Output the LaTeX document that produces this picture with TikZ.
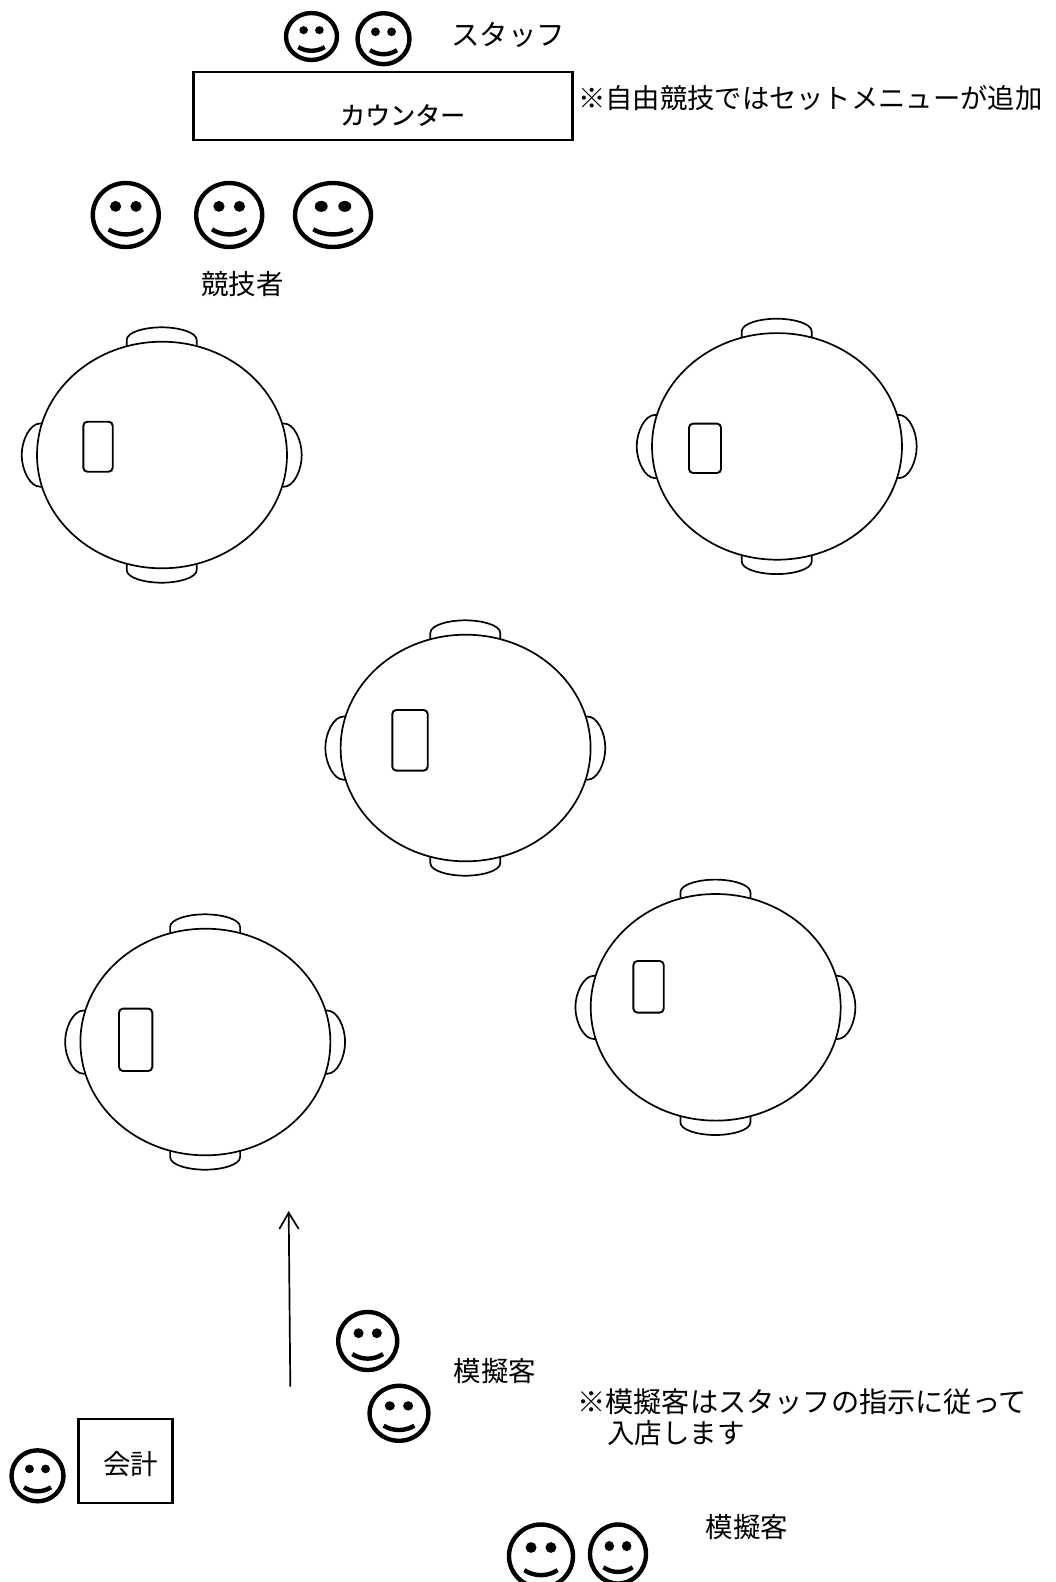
\documentclass[tikz,border=0pt]{standalone}
\usepackage{fontspec}
\setmainfont{Noto Sans CJK JP}
\newfontfamily\heavierjp{Noto Sans CJK JP}[FakeBold=0.6]
\tikzset{
  x=1pt,y=-1pt,
  lbl/.style={font=\fontsize{27.5}{27.5}\selectfont,inner sep=0pt,anchor=center},
  thinline/.style={line width=1.7pt,black},
  thickbox/.style={draw=black,line width=2.8pt,fill=white,inner sep=0pt},
  seat/.style={thinline,fill=white,line join=round},
  pad/.style={line width=1.9pt,draw=black,rounded corners=4pt,fill=white},
  facestroke/.style={line width=4.4pt,black},
}
% name, cx, cy, rx, ry
\newcommand{\smileyface}[5]{%
  \begin{scope}[shift={(#2,#3)},x=#4pt,y=-#5pt]
    \coordinate (#1) at (0,0);
    \draw[facestroke] (0,0) ellipse (1 and 1);
    \fill (-0.31,-0.27) ellipse (0.17 and 0.17);
    \fill (0.31,-0.27) ellipse (0.17 and 0.17);
    \draw[facestroke] (-0.52,0.45) .. controls (-0.2,0.66) and (0.2,0.66) .. (0.52,0.45);
  \end{scope}}
% name, dx, dy
\newcommand{\roundtable}[3]{%
  \begin{scope}[shift={(#2,#3)}]
    \draw[seat] (126.7,350) -- (126.7,340) .. controls (126.7,332) and (145,327.3) .. (161.7,327.3) .. controls (178,327.3) and (196.7,332) .. (196.7,340) -- (196.7,350);
    \draw[seat] (126.7,560) -- (126.7,570) .. controls (126.7,578) and (145,582.7) .. (161.7,582.7) .. controls (178,582.7) and (196.7,578) .. (196.7,570) -- (196.7,560);
    \draw[seat] (45,423.5) -- (40,423.5) .. controls (30,423.5) and (21.7,440) .. (21.7,455) .. controls (21.7,470) and (30,486.7) .. (40,486.7) -- (45,486.7);
    \draw[seat] (279,423.5) -- (284,423.5) .. controls (294,423.5) and (301.7,440) .. (301.7,455) .. controls (301.7,470) and (294,486.7) .. (284,486.7) -- (279,486.7);
    \coordinate (#1) at (162,455);
    \draw[thinline,fill=white] (162,455) ellipse (125 and 113.3);
  \end{scope}}
\begin{document}
\begin{tikzpicture}
\useasboundingbox (0,0) rectangle (1056,1582);
\clip (0,0) rectangle (1056,1582);
% tables
\roundtable{tableA}{0}{0}
\roundtable{tableB}{615}{-8.6}
\roundtable{tableC}{303.6}{293}
\roundtable{tableD}{43.4}{587}
\roundtable{tableE}{553.7}{552.3}
% card pads
\draw[pad] (83.3,421.7) rectangle (112.7,471.7);
\draw[pad] (689,423.6) rectangle (721,473);
\draw[pad] (392.3,710) rectangle (427.7,770.6);
\draw[pad] (119,1008.6) rectangle (152.3,1071);
\draw[pad] (633.4,961) rectangle (663.7,1012.6);
% counter
\node[thickbox,minimum width=379pt,minimum height=68pt] (counter) at (383.3,106) {};
\node[lbl,font=\heavierjp\fontsize{25}{25}\selectfont] (counterlabel) at (402.7,115) {カウンター};
% staff
\smileyface{staffA}{311.5}{36.5}{25.5}{23.5}
\smileyface{staffB}{383.5}{38.7}{26}{25.5}
\node[lbl,font=\fontsize{28.5}{28.5}\selectfont] (stafflabel) at (508,35) {スタッフ};
\node[lbl,font=\fontsize{27.3}{27.3}\selectfont,anchor=west] (setnote) at (578,98) {※自由競技ではセットメニューが追加};
% contestants
\smileyface{playerA}{125.8}{215}{33}{32}
\smileyface{playerB}{229.2}{215}{33}{32}
\smileyface{playerC}{333}{215}{38}{32}
\node[lbl] (playerlabel) at (242.5,284.5) {競技者};
% entrance arrow
\coordinate (arrowfoot) at (290.3,1386.7);
\coordinate (arrowtip) at (288.7,1212.7);
\draw[thinline] (arrowfoot) -- (arrowtip);
\draw[thinline,line join=miter] (279.3,1229) -- (arrowtip) -- (298.7,1229);
% guests
\smileyface{guestA}{367.7}{1341}{29.5}{29}
\smileyface{guestB}{399}{1413.3}{29.5}{27.5}
\node[lbl] (guestlabelA) at (495,1371) {模擬客};
\node[lbl,font=\fontsize{28.2}{28.2}\selectfont,anchor=west] (guestnoteA) at (577,1401.7) {※模擬客はスタッフの指示に従って};
\node[lbl,anchor=west] (guestnoteB) at (607,1433) {入店します};
% cashier
\smileyface{cashier}{37.5}{1475.8}{26}{25.5}
\node[thickbox,minimum width=94pt,minimum height=84pt] (till) at (125.5,1461) {};
\node[lbl] (tilllabel) at (130.7,1464) {会計};
% waiting guests
\smileyface{guestC}{541}{1556}{32}{31.5}
\smileyface{guestD}{618}{1554}{28}{29.5}
\node[lbl] (guestlabelB) at (747,1527) {模擬客};
\end{tikzpicture}
\end{document}
